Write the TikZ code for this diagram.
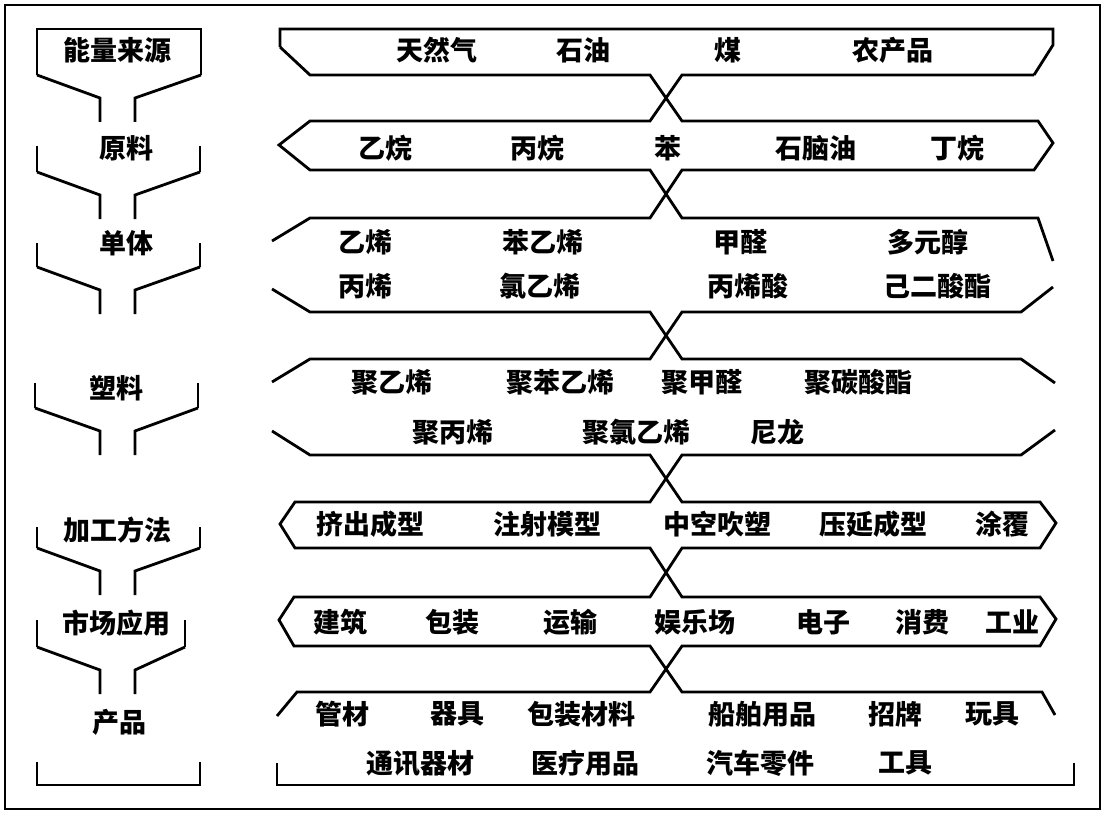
\documentclass[tikz,border=0pt]{standalone}
\usepackage{fontspec}
\setmainfont{Noto Sans CJK SC}
\usetikzlibrary{calc}
\tikzset{
  line/.style={line width=2.8pt,line join=miter},
  word/.style={font=\fontsize{27}{27}\selectfont\bfseries,inner sep=0pt}
}

\begin{document}
\begin{tikzpicture}[x=1pt,y=-1pt]
\useasboundingbox (0,0) rectangle (1105,813);
\draw[line] (5,5) rectangle (1100,809);

\draw[line]
  (37,75) -- (37,29) -- (201,29) -- (201,75);
\foreach \ya/\yb/\wl/\wr in {146/75/37/201,243/172/37/200,383/267/37/200,527/408/35/198,620/548/37/200,-1/647/37/185}
{
  \draw[line] (\wl,\yb) -- (100,\yb+23) -- (100,\yb+47);
  \draw[line] (\wr,\yb) -- (135,\yb+23) -- (135,\yb+47);
}
\foreach \ya/\yb/\wl/\wr in {146/172/37/200,243/267/37/200,383/408/35/198,527/548/37/200,620/647/37/185}
{
  \draw[line] (\wl,\ya) -- (\wl,\yb);
  \draw[line] (\wr,\ya) -- (\wr,\yb);
}
\draw[line] (37,762) -- (37,785) -- (200,785) -- (200,762);

\draw[line]
  (280,47) -- (280,29) -- (1053,29) -- (1053,45) -- (1034,75);
\draw[line]
  (280,47) -- (310,75) -- (650,75) -- (682,121) -- (1038,121) --
  (1053,143) -- (1034,170) -- (682,170) -- (650,218) -- (310,218) --
  (272,241);
\draw[line]
  (272,289) -- (310,312) -- (650,312) -- (682,359) -- (1021,359) --
  (1055,383);
\draw[line]
  (1055,430) -- (1021,455) -- (682,455) -- (650,502) -- (295,502) --
  (280,524) -- (295,548) -- (650,548) -- (682,597) -- (1040,597) --
  (1056,619) -- (1040,646) -- (682,646) -- (650,692) -- (297,692) --
  (277,716);
\draw[line]
  (1034,75) -- (682,75) -- (650,121) -- (310,121) -- (279,145) --
  (310,170) -- (650,170) -- (682,218) -- (1038,218) -- (1053,261);
\draw[line]
  (1053,287) -- (1021,312) -- (682,312) -- (650,359) -- (310,359) --
  (272,382);
\draw[line]
  (272,431) -- (310,455) -- (650,455) -- (682,502) -- (1040,502) --
  (1056,523) -- (1040,548) -- (682,548) -- (650,597) -- (294,597) --
  (279,620) -- (294,646) -- (650,646) -- (682,692) -- (1042,692) --
  (1055,715);
\draw[line] (277,763) -- (277,785) -- (1074,785) -- (1074,763);

\foreach \name/\x/\y/\txt in {L1/117/50/能量来源,L2/126/148/原料,L3/126/243/单体,L4/116/388/塑料,L5/117/530/加工方法,L6/116/623/市场应用,L7/119/722/产品}
  \node[word] (\name) at (\x,\y) {\txt};

\foreach \name/\x/\txt in {S1/437/天然气,S2/583/石油,S3/728/煤,S4/893/农产品}
  \node[word] (\name) at (\x,50) {\txt};
\foreach \name/\x/\txt in {R1/385/乙烷,R2/537/丙烷,R3/668/苯,R4/816/石脑油,R5/957/丁烷}
  \node[word] (\name) at (\x,148) {\txt};
\foreach \name/\x/\txt in {M1/365/乙烯,M2/543/苯乙烯,M3/740/甲醛,M4/928/多元醇}
  \node[word] (\name) at (\x,242) {\txt};
\foreach \name/\x/\txt in {M5/365/丙烯,M6/540/氯乙烯,M7/748/丙烯酸,M8/937/己二酸酯}
  \node[word] (\name) at (\x,286) {\txt};
\foreach \name/\x/\txt in {P1/392/聚乙烯,P2/560/聚苯乙烯,P3/702/聚甲醛,P4/858/聚碳酸酯}
  \node[word] (\name) at (\x,382) {\txt};
\foreach \name/\x/\txt in {P5/453/聚丙烯,P6/636/聚氯乙烯,P7/777/尼龙}
  \node[word] (\name) at (\x,432) {\txt};
\foreach \name/\x/\txt in {W1/370/挤出成型,W2/547/注射模型,W3/717/中空吹塑,W4/873/压延成型,W5/1002/涂覆}
  \node[word] (\name) at (\x,524) {\txt};
\foreach \name/\x/\txt in {U1/340/建筑,U2/452/包装,U3/570/运输,U4/695/娱乐场,U5/823/电子,U6/922/消费,U7/1012/工业}
  \node[word] (\name) at (\x,622) {\txt};
\foreach \name/\x/\txt in {G1/342/管材,G2/457/器具,G3/581/包装材料,G4/762/船舶用品,G5/895/招牌,G6/992/玩具}
  \node[word] (\name) at (\x,714) {\txt};
\foreach \name/\x/\txt in {G7/420/通讯器材,G8/585/医疗用品,G9/760/汽车零件,G10/905/工具}
  \node[word] (\name) at (\x,763) {\txt};
\end{tikzpicture}
\end{document}
